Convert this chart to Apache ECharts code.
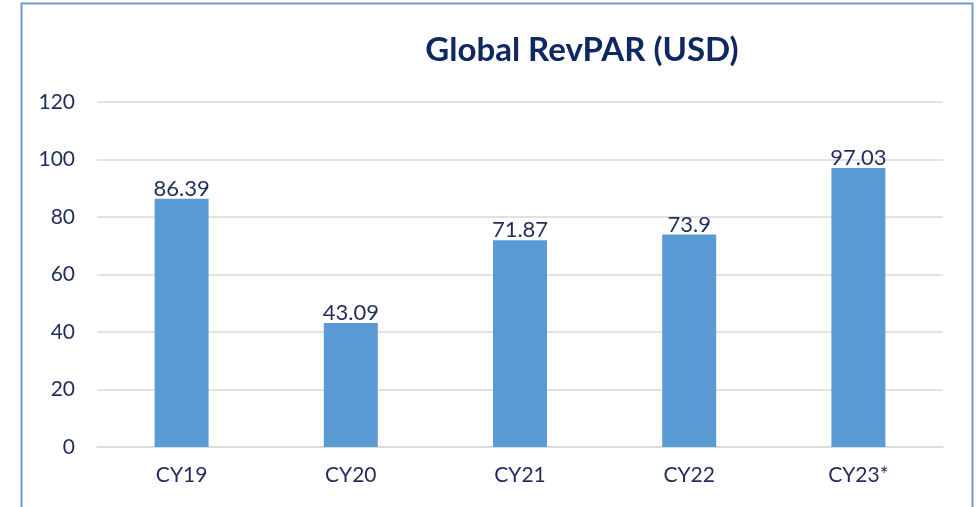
<!DOCTYPE html>
<html>
<head>
<meta charset="utf-8">
<script src="https://cdn.jsdelivr.net/npm/echarts@6/dist/echarts.min.js"></script>
<style>
  html, body { margin: 0; padding: 0; background: #fff; }
  #chart { width: 978px; height: 507px; }
</style>
</head>
<body>
<div id="chart"></div>
<script>
  var categories = ['CY19', 'CY20', 'CY21', 'CY22', 'CY23*'];
  var revpar = [86.39, 43.09, 71.87, 73.9, 97.03];
  var yTicks = [0, 20, 40, 60, 80, 100, 120];

  var myChart = echarts.init(document.getElementById('chart'));
  var option = {
    backgroundColor: '#fff',
    title: {
      text: 'Global RevPAR (USD)',
      left: 577,
      textAlign: 'center',
      top: 29,
      textStyle: {
        color: '#0E2862',
        fontFamily: 'Lato',
        fontWeight: 'bold',
        fontSize: 33
      }
    },
    graphic: [{
      type: 'rect',
      shape: { x: 21.5, y: 3.5, width: 951, height: 520 },
      style: { fill: 'none', stroke: '#6F9BD1', lineWidth: 2 },
      silent: true
    }],
    grid: { left: 97, right: 35, top: 102, bottom: 60 },
    xAxis: {
      type: 'category',
      data: categories,
      axisLine: { lineStyle: { color: '#D9D9D9', width: 1.5 } },
      axisTick: { show: false },
      axisLabel: {
        color: '#1F2D5C',
        fontFamily: 'Lato',
        fontSize: 21,
        margin: 18
      }
    },
    yAxis: {
      type: 'value',
      min: yTicks[0],
      max: yTicks[yTicks.length - 1],
      interval: 20,
      axisLine: { show: false },
      axisTick: { show: false },
      splitLine: { lineStyle: { color: '#D9D9D9', width: 1.5 } },
      axisLabel: {
        color: '#1F2D5C',
        fontFamily: 'Lato',
        fontSize: 21,
        margin: 22
      }
    },
    series: [{
      type: 'bar',
      data: revpar,
      barWidth: 54,
      itemStyle: { color: '#5B9BD5' },
      label: {
        show: true,
        position: 'top',
        distance: -1,
        color: '#1F2D5C',
        fontFamily: 'Lato',
        fontSize: 22
      }
    }]
  };
  option && myChart.setOption(option);
</script>
</body>
</html>
